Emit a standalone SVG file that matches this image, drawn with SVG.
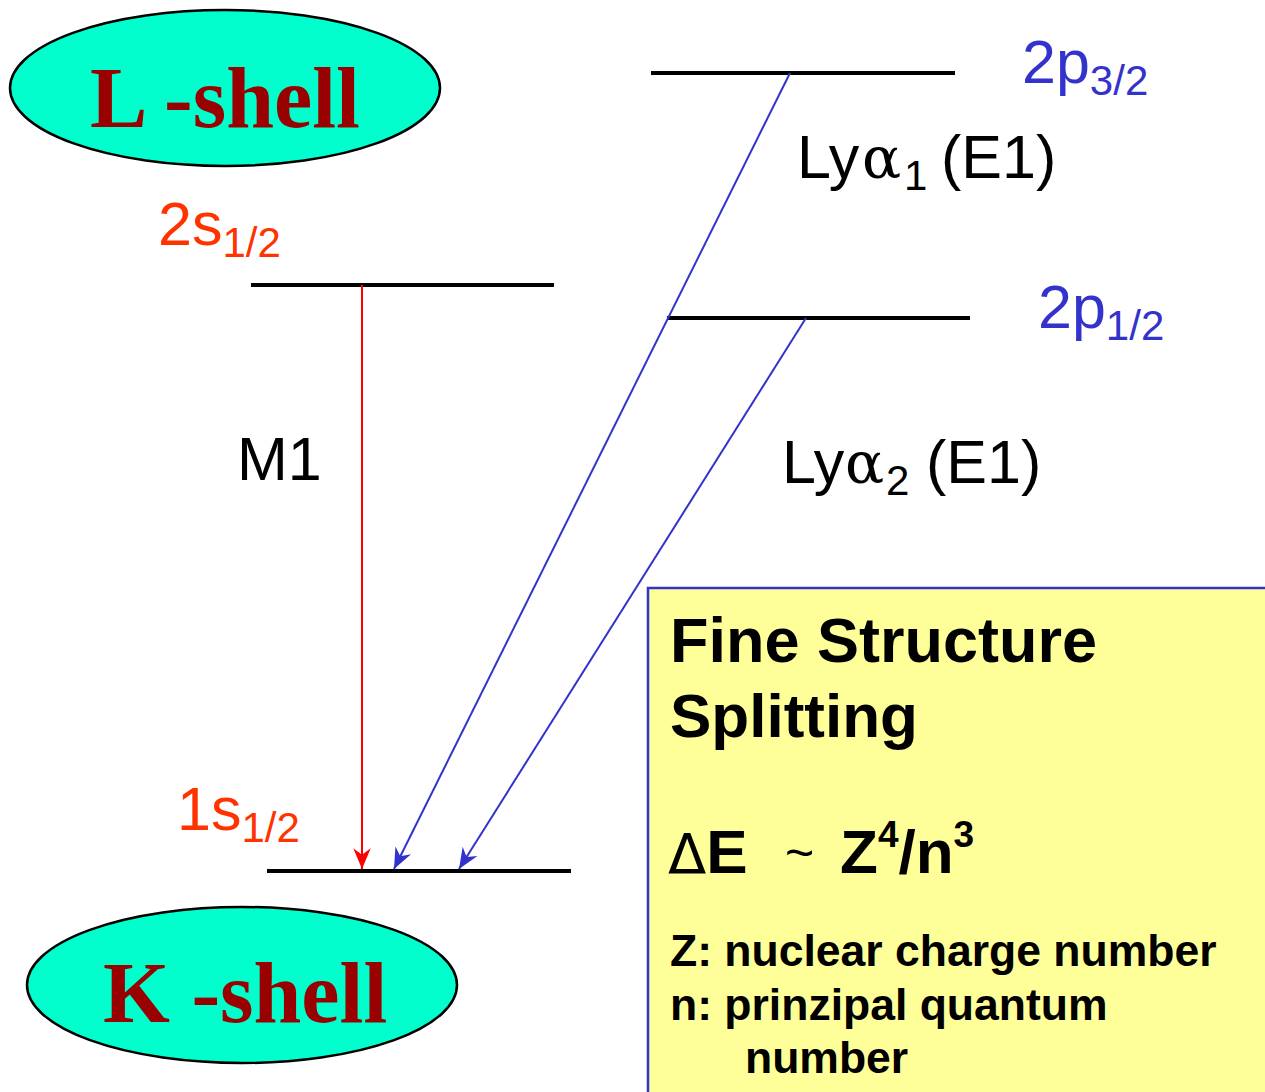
<svg xmlns="http://www.w3.org/2000/svg" width="1265" height="1092" viewBox="0 0 1265 1092">
<style>
.shell{fill:#00FFCC;stroke:#000;stroke-width:2.5}
.shelltxt{font-family:"Liberation Serif",serif;font-weight:bold;font-size:86px;fill:#990000}
.lvl{stroke:#000;stroke-width:4}
.t{font-family:"Liberation Sans",Arial,sans-serif;font-size:61px}
.sub{font-size:42px}
.alpha{font-family:"DejaVu Serif",serif;font-size:58px}
.red{fill:#FF3300}
.blue{fill:#3333CC}
.blk{fill:#000}
.b{font-family:"Liberation Sans",Arial,sans-serif;font-weight:bold;fill:#000}
</style>
<defs>
<marker id="ar" markerUnits="userSpaceOnUse" markerWidth="24" markerHeight="24" viewBox="-20 -10 22 20" refX="0" refY="0" orient="auto">
<path d="M0,0 L-19,-8 L-13,0 L-19,8 Z" fill="#FF0000"/>
</marker>
<marker id="ab" markerUnits="userSpaceOnUse" markerWidth="24" markerHeight="24" viewBox="-20 -10 22 20" refX="0" refY="0" orient="auto">
<path d="M0,0 L-19,-8 L-13,0 L-19,8 Z" fill="#3333CC"/>
</marker>
</defs>
<rect width="1265" height="1092" fill="#fff"/>
<g id="box">
<rect x="648" y="588" width="630" height="520" fill="#FFFF99" stroke="#3333CC" stroke-width="2.5"/>
<text class="b" x="670" y="662" font-size="63">Fine Structure</text>
<text class="b" x="670" y="737" font-size="62">Splitting</text>
<text class="b" x="668" y="873" font-size="62"><tspan font-family="'DejaVu Sans',sans-serif" font-weight="normal" font-size="56">Δ</tspan>E<tspan x="785" y="870" font-weight="normal" font-size="50">~</tspan><tspan x="840" y="873">Z</tspan><tspan font-size="37" dy="-26">4</tspan><tspan dy="26">/n</tspan><tspan font-size="37" dy="-26">3</tspan></text>
<text class="b" x="670" y="966" font-size="44.5">Z: nuclear charge number</text>
<text class="b" x="670" y="1020" font-size="44.5">n: prinzipal quantum</text>
<text class="b" x="745" y="1073" font-size="44.5">number</text>
</g>
<g id="L-shell">
<ellipse class="shell" cx="225" cy="88" rx="215" ry="78"/>
<text class="shelltxt" x="90" y="127">L -shell</text>
</g>
<g id="K-shell">
<ellipse class="shell" cx="242" cy="985" rx="215" ry="78"/>
<text class="shelltxt" x="103" y="1022">K -shell</text>
</g>
<g id="level-2p32">
<line class="lvl" x1="651" y1="73" x2="955" y2="73"/>
<text class="t blue" x="1022" y="83">2p<tspan class="sub" dy="12">3/2</tspan></text>
</g>
<g id="level-2s12">
<line class="lvl" x1="251" y1="285" x2="554" y2="285"/>
<text class="t red" x="158" y="245">2s<tspan class="sub" dy="12">1/2</tspan></text>
</g>
<g id="level-2p12">
<line class="lvl" x1="667" y1="318" x2="970" y2="318"/>
<text class="t blue" x="1038" y="328">2p<tspan class="sub" dy="12">1/2</tspan></text>
</g>
<g id="level-1s12">
<line class="lvl" x1="267" y1="871" x2="571" y2="871"/>
<text class="t red" x="177" y="830">1s<tspan class="sub" dy="12">1/2</tspan></text>
</g>
<g id="connectors">
<line x1="362" y1="285" x2="362" y2="869" stroke="#FF0000" stroke-width="2" marker-end="url(#ar)"/>
<line x1="790" y1="73" x2="394" y2="869" stroke="#3333CC" stroke-width="2" marker-end="url(#ab)"/>
<line x1="806" y1="318" x2="459" y2="869" stroke="#3333CC" stroke-width="2" marker-end="url(#ab)"/>
</g>
<g id="labels">
<text class="t blk" x="237" y="480">M1</text>
<text class="t blk" x="797" y="178">Ly<tspan x="862" class="alpha">α</tspan><tspan x="904" class="sub" dy="12">1</tspan><tspan x="941" dy="-12">(E1)</tspan></text>
<text class="t blk" x="782" y="483">Ly<tspan x="845" class="alpha">α</tspan><tspan x="886" class="sub" dy="12">2</tspan><tspan x="926" dy="-12">(E1)</tspan></text>
</g>
</svg>
